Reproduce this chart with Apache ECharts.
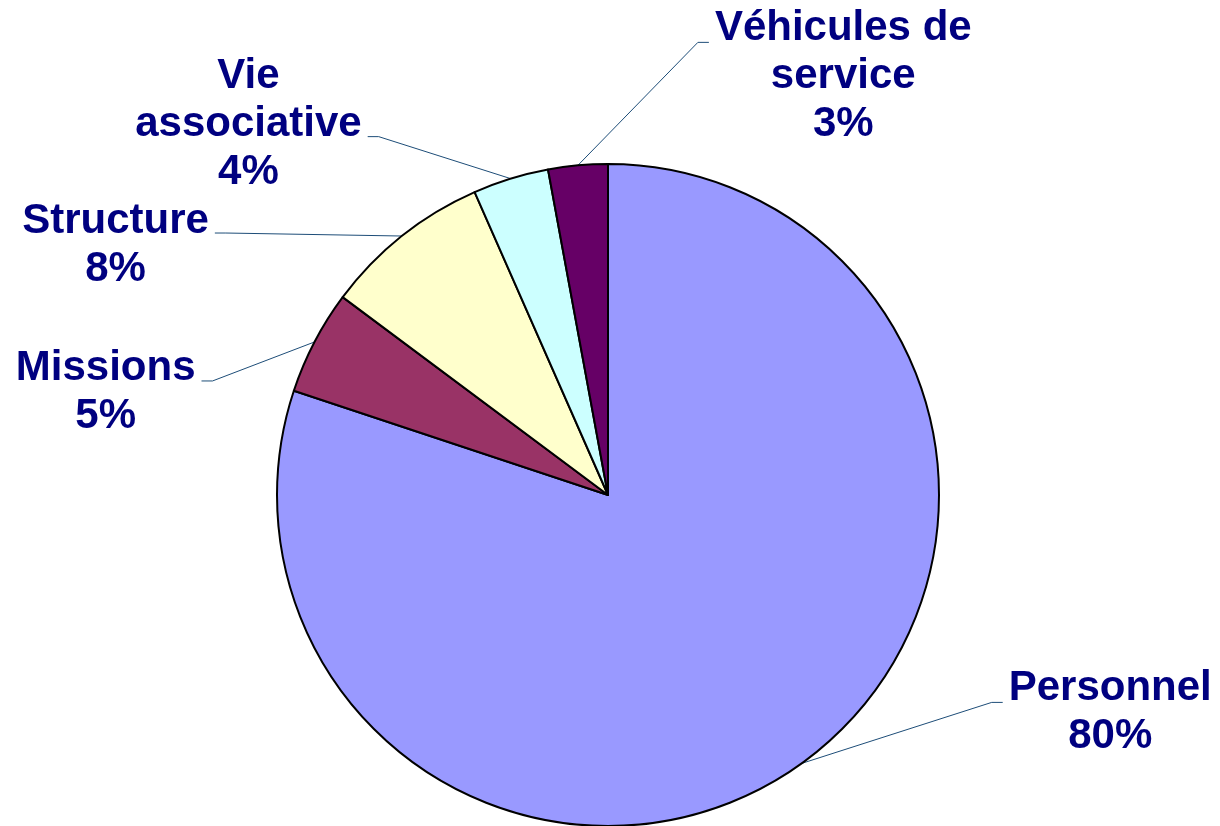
<!DOCTYPE html>
<html><head><meta charset="utf-8">
<script src="https://cdn.jsdelivr.net/npm/echarts@6/dist/echarts.min.js"></script>
<style>html,body{margin:0;padding:0;background:#fff}#chart{width:1220px;height:826px}</style>
</head><body><div id="chart"></div>
<script>
const categories = ['Personnel', 'Missions', 'Structure', 'Vie\nassociative', 'Véhicules de\nservice'];
const values = [80.1, 5.1, 8.2, 3.7, 2.9];
const colors = ['#9999FF', '#993366', '#FFFFCC', '#CCFFFF', '#660066'];

// leader-line styling: elbow offset from slice edge, label side, vertical text shift
const leaderStyle = [
  { dx: 190, dy: -61, side: 1, shift: 10 },
  { dx: -102, dy: 39, side: -1, shift: 11 },
  { dx: -176, dy: -3, side: -1, shift: 12 },
  { dx: -132, dy: -42, side: -1, shift: -12 },
  { dx: 120, dy: -123, side: 1, shift: 34 }
];
const STUB = 11, GAP = 6;

const chart = echarts.init(document.getElementById('chart'), null, { renderer: 'canvas' });
chart.setOption({
  animation: false,
  backgroundColor: '#ffffff',
  series: [{
    type: 'pie',
    center: [608, 495],
    radius: 331,
    startAngle: 90,
    clockwise: true,
    avoidLabelOverlap: false,
    emphasis: { disabled: true },
    data: categories.map((c, i) => ({ name: c, value: values[i], itemStyle: { color: colors[i] } })),
    itemStyle: { borderColor: '#000000', borderWidth: 2 },
    label: {
      show: true,
      position: 'outside',
      formatter: p => p.name + '\n' + Math.round(p.percent) + '%',
      color: '#000080',
      fontFamily: 'Liberation Sans, Arial, sans-serif',
      fontWeight: 'bold',
      fontSize: 42,
      lineHeight: 48
    },
    labelLine: {
      show: true, length: 10, length2: 10, smooth: false,
      lineStyle: { color: '#1d4d78', width: 1 }
    },
    labelLayout: function (p) {
      const L = leaderStyle[p.dataIndex];
      const pts = p.labelLinePoints;
      if (!pts) return {};
      const s = pts[0];
      const e = [s[0] + L.dx, s[1] + L.dy];
      const t = [e[0] + L.side * STUB, e[1]];
      return {
        x: t[0] + L.side * (GAP + p.labelRect.width / 2),
        y: t[1] + L.shift,
        align: 'center',
        verticalAlign: 'middle',
        labelLinePoints: [s, e, t]
      };
    }
  }]
});
</script>
</body></html>
